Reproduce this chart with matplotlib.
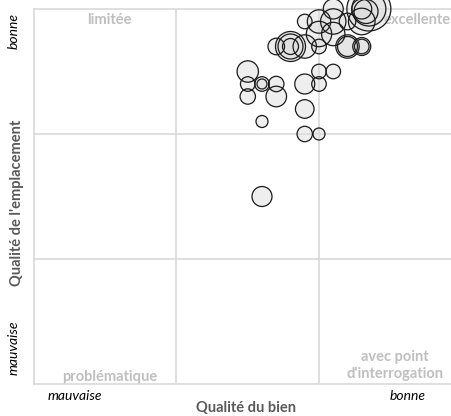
import matplotlib
matplotlib.use("Agg")
import matplotlib.pyplot as plt
import numpy as np

# Data values (quality of property, quality of location, bubble size)
qualite_bien = [1.5, 1.5, 1.6, 1.6, 1.7, 1.5, 1.7, 1.9, 2.0, 2.0, 2.1, 1.9, 1.6, 1.9, 2.0, 1.6,
                1.7, 1.8, 1.8, 1.8, 1.9, 2.0, 2.2, 2.2, 2.3, 2.3,
                1.9, 2.0, 2.0, 2.1, 2.1, 2.2, 2.3, 2.1, 2.35, 2.35, 2.33, 2.3]
qualite_empl = [2.5, 2.4, 2.4, 2.4, 2.4, 2.3, 2.3, 2.4, 2.4, 2.5, 2.5, 2.2, 2.1, 2.0, 2.0, 1.5,
                2.7, 2.7, 2.7, 2.7, 2.7, 2.7, 2.7, 2.7, 2.7, 2.7,
                2.9, 2.9, 2.8, 2.9, 2.8, 2.9, 2.9, 3.0, 3.0, 3.0, 2.98, 3.0]
taille = [10.7, 7.3, 7.3, 5.0, 7.7, 7.7, 10.3, 10.0, 7.3, 7.3, 7.3, 9.3, 6.0, 7.7, 6.0, 10.0,
          8.3, 15.0, 12.5, 8.0, 11.7, 7.3, 11.7, 10.0, 9.0, 7.3,
          7.3, 11.7, 12.7, 12.7, 11.7, 8.3, 13.3, 10.0, 22.0, 17.0, 12.0, 10.0]

x_ticks = ["mauvaise", "bonne"]
y_ticks = ["mauvaise", "bonne"]
quadrants = ["limitée", "excellente", "problématique", "avec point\nd'interrogation"]

W, H = 451, 416
fig = plt.figure(figsize=(W / 100, H / 100), dpi=100)
ax = fig.add_axes([34 / W, (H - 384) / H, (461.5 - 34) / W, (384 - 9) / H])
ax.set_xlim(0, 3)
ax.set_ylim(0, 3)

grid_c = "#d9d9d9"
for v in [1, 2]:
    ax.axvline(v, color=grid_c, lw=1.2, zorder=0)
    ax.axhline(v, color=grid_c, lw=1.2, zorder=0)
ax.axhline(3, color=grid_c, lw=1.2, zorder=0, clip_on=False)
for s in ["top", "right"]:
    ax.spines[s].set_visible(False)
for s in ["left", "bottom"]:
    ax.spines[s].set_color(grid_c)
    ax.spines[s].set_linewidth(1.2)
ax.set_xticks([])
ax.set_yticks([])

fam = ["Lato", "DejaVu Sans"]
qc = "#bfbfbf"
qs = 10.5
ax.text(0.53, 2.91, quadrants[0], ha="center", va="center", color=qc, fontsize=qs, fontweight="bold", family=fam, zorder=1)
ax.text(2.69, 2.91, quadrants[1], ha="center", va="center", color=qc, fontsize=qs, fontweight="bold", family=fam, zorder=1)
ax.text(0.53, 0.055, quadrants[2], ha="center", va="center", color=qc, fontsize=qs, fontweight="bold", family=fam, zorder=1)
ax.text(2.53, 0.15, quadrants[3], ha="center", va="center", color=qc, fontsize=qs, fontweight="bold", family=fam, zorder=1, linespacing=1.25)

sizes = [(2 * r * 72 / 100) ** 2 for r in taille]
ax.scatter(qualite_bien, qualite_empl, s=sizes, facecolor="#dedede", alpha=0.5,
           edgecolor="none", zorder=2, clip_on=False)
ax.scatter(qualite_bien, qualite_empl, s=sizes, facecolor="none",
           edgecolor="#1a1a1a", linewidth=0.9, zorder=3, clip_on=False)

ts = 10
fig.text(75 / W, 1 - 396 / H, x_ticks[0], ha="center", va="center", fontsize=ts, style="italic", family=fam)
fig.text(408 / W, 1 - 396 / H, x_ticks[1], ha="center", va="center", fontsize=ts, style="italic", family=fam)
fig.text(14 / W, 1 - 348 / H, y_ticks[0], ha="center", va="center", fontsize=ts, style="italic", rotation=90, family=fam)
fig.text(14 / W, 1 - 31 / H, y_ticks[1], ha="center", va="center", fontsize=ts, style="italic", rotation=90, family=fam)
fig.text(246 / W, 1 - 408 / H, "Qualité du bien", ha="center", va="center", fontsize=10.5, fontweight="bold", color="#595959", family=fam)
fig.text(17 / W, 1 - 203 / H, "Qualité de l'emplacement", ha="center", va="center", fontsize=10.5, fontweight="bold", color="#595959", rotation=90, family=fam)

fig.savefig("out.png", dpi=100)
